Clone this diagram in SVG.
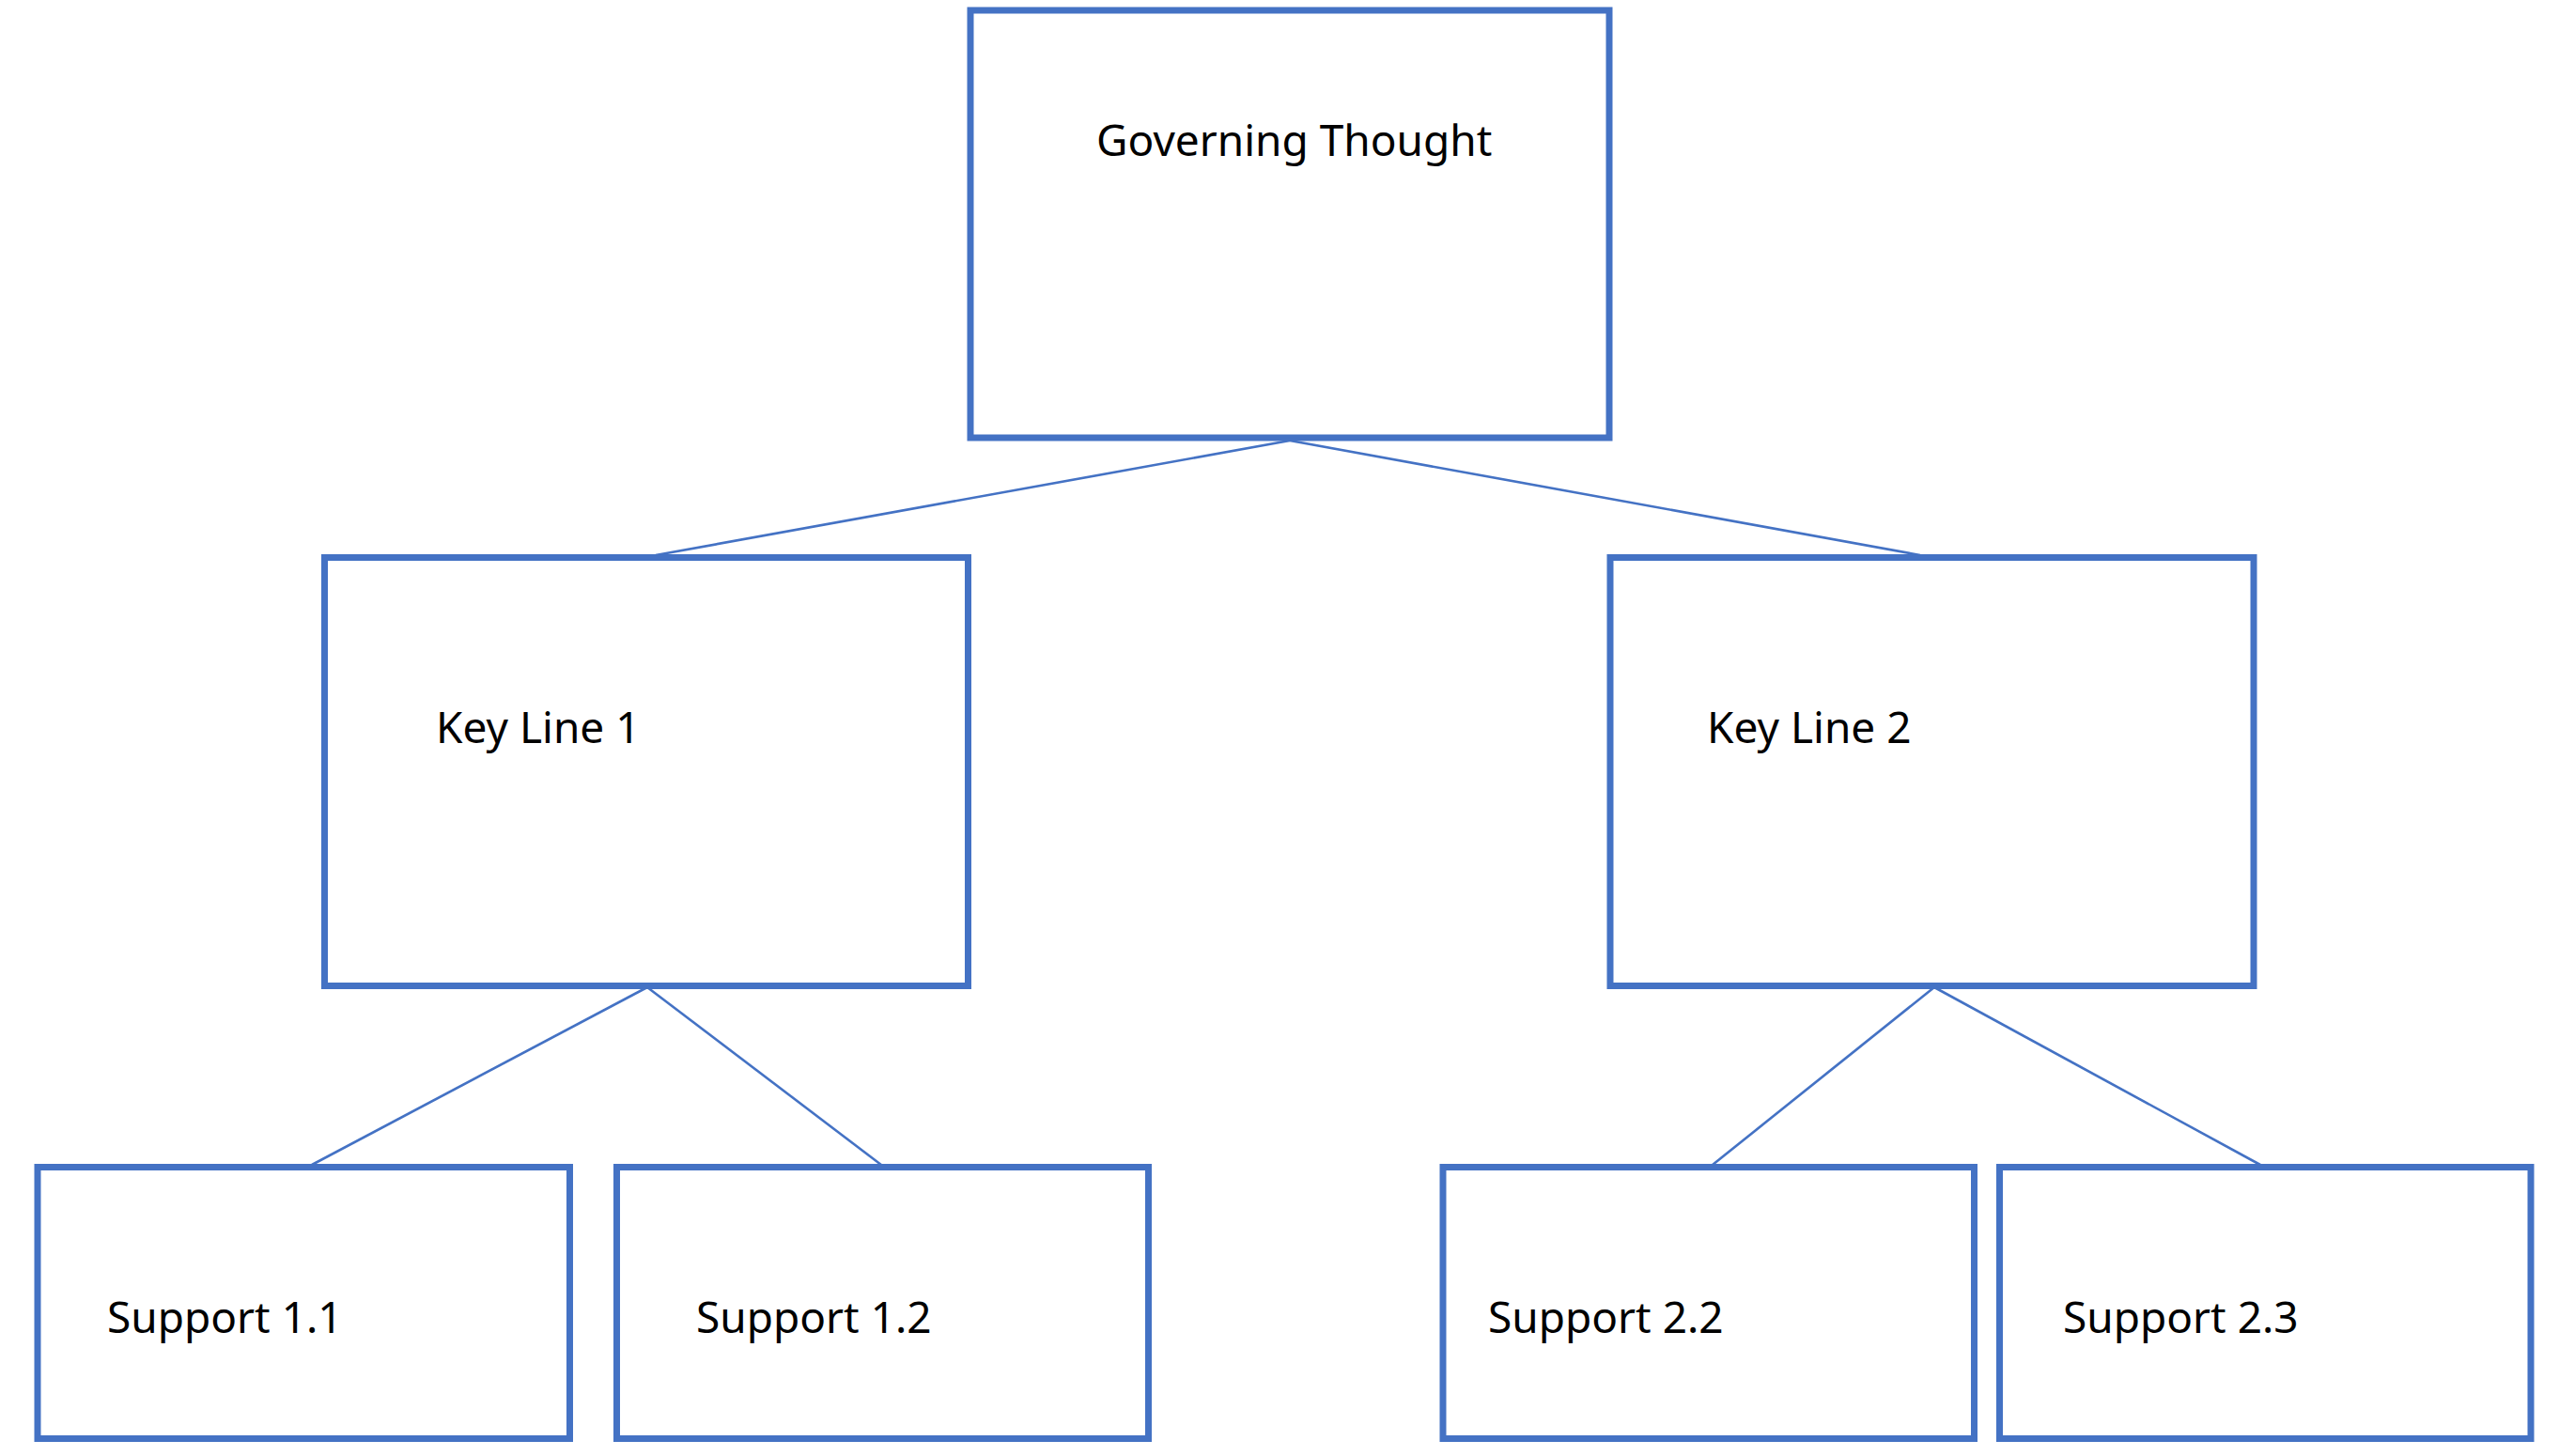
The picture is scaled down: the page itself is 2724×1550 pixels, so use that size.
<svg xmlns="http://www.w3.org/2000/svg" width="2724" height="1550" viewBox="0 0 2724 1550">
<style>
.box{fill:#FFFFFF;stroke:#4472C4;stroke-width:7}
.con{stroke:#4472C4;stroke-width:2.6;fill:none}
.lbl{font-family:"Noto Sans","Open Sans",sans-serif;font-size:46px;fill:#000000}
</style>
<rect x="0" y="0" width="2724" height="1550" fill="#FFFFFF"/>
<g id="connectors">
<line class="con" x1="1373" y1="469" x2="698" y2="591"/>
<line class="con" x1="1373" y1="469" x2="2044" y2="591"/>
<line class="con" x1="689" y1="1051" x2="332" y2="1240"/>
<line class="con" x1="689" y1="1051" x2="938" y2="1240"/>
<line class="con" x1="2059" y1="1051" x2="1823" y2="1240"/>
<line class="con" x1="2059" y1="1051" x2="2406" y2="1240"/>
</g>
<g id="governing-thought">
<rect class="box" x="1033" y="11" width="680" height="455"/>
<text class="lbl" x="1167" y="166">Governing Thought</text>
</g>
<g id="key-line-1">
<rect class="box" x="345.5" y="593.5" width="685" height="456"/>
<text class="lbl" x="464" y="791">Key Line 1</text>
</g>
<g id="key-line-2">
<rect class="box" x="1714" y="593.5" width="685" height="456"/>
<text class="lbl" x="1817" y="791">Key Line 2</text>
</g>
<g id="support-1-1">
<rect class="box" x="40" y="1242.5" width="566.5" height="289"/>
<text class="lbl" x="114" y="1419">Support 1.1</text>
</g>
<g id="support-1-2">
<rect class="box" x="656.5" y="1242.5" width="566" height="289"/>
<text class="lbl" x="741" y="1419">Support 1.2</text>
</g>
<g id="support-2-2">
<rect class="box" x="1536" y="1242.5" width="565.5" height="289"/>
<text class="lbl" x="1584" y="1419">Support 2.2</text>
</g>
<g id="support-2-3">
<rect class="box" x="2128.5" y="1242.5" width="565.5" height="289"/>
<text class="lbl" x="2196" y="1419">Support 2.3</text>
</g>
</svg>
